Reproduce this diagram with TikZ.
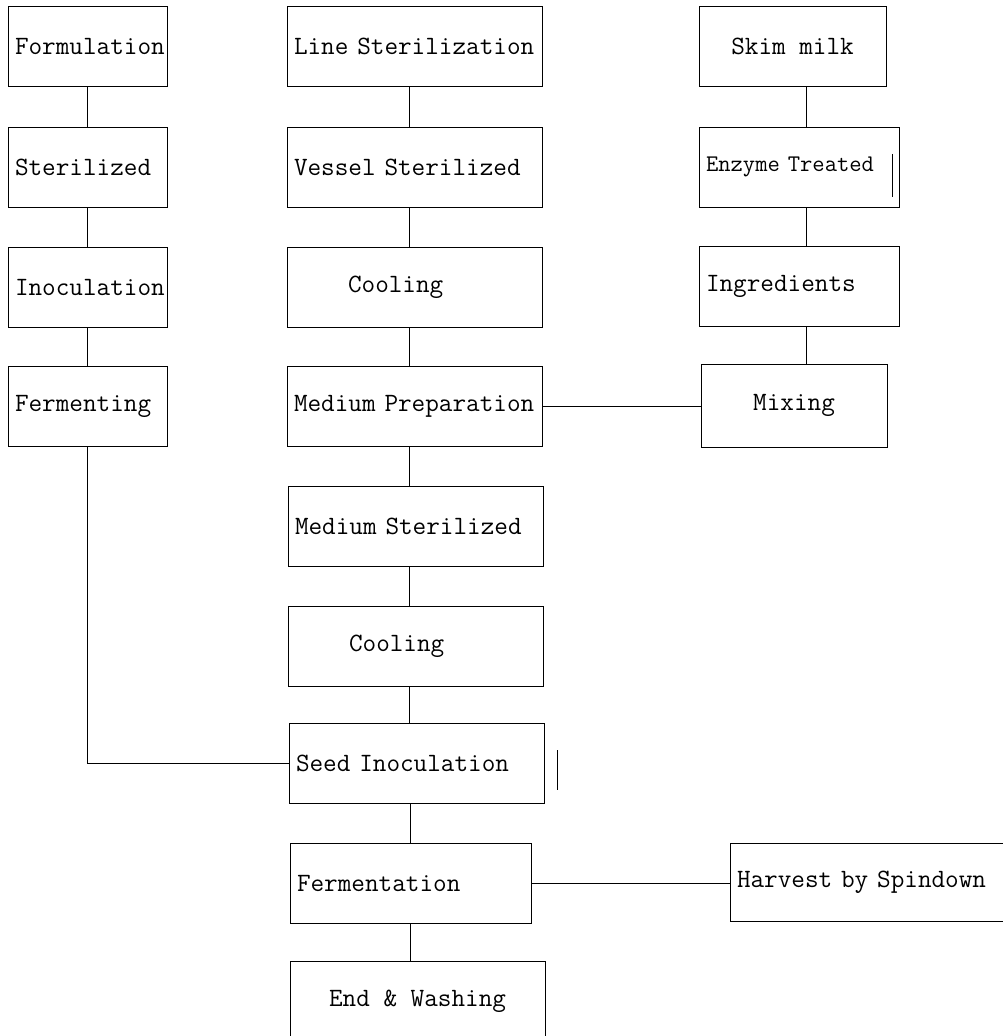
\documentclass[tikz,border=0pt]{standalone}
\usepackage{tikz}
\usetikzlibrary{positioning}

\tikzset{
  stage/.style={draw, anchor=north west, minimum height=2cm, inner xsep=0.175cm,
    inner ysep=0pt, outer sep=0pt, font=\fontsize{18.8}{21}\selectfont\ttfamily},
  stageleft/.style={stage, align=left, text width=#1},
}

\begin{document}
\begin{tikzpicture}[x=0.025cm, y=-0.025cm, line width=0.7pt]
\useasboundingbox (0,0) rectangle (1002,1036);

% Colonna sinistra
\node[stageleft=3.625cm] (formul) at (8,6) {Formulation};
\node[stageleft=3.625cm] (steril) at (8,127) {Sterilized};
\node[stageleft=3.625cm] (inocul) at (8,247) {Inoculation};
\node[stageleft=3.625cm] (fermng) at (8,366) {Fermenting};

% Colonna centrale
\node[stageleft=6.025cm] (linest) at (287,6) {Line Sterilization};
\node[stageleft=6.025cm] (vessel) at (287,127) {Vessel Sterilized};
\node[stageleft=6.025cm] (cool1) at (287,247) {\hspace*{1.35cm}Cooling};
\node[stageleft=6.025cm] (medprep) at (287,366) {Medium Preparation};
\node[stageleft=6.025cm] (medster) at (288,486) {Medium Sterilized};
\node[stageleft=6.025cm] (cool2) at (288,606) {\hspace*{1.35cm}Cooling};
\node[stageleft=6.025cm] (seed) at (289,723) {Seed Inoculation};
\node[stageleft=5.675cm] (fermtn) at (290,843) {Fermentation};
\node[stage, minimum width=6.375cm] (endwash) at (290,961) {End \& Washing};

% Colonna destra
\node[stage, minimum width=4.675cm] (skim) at (699,6) {Skim milk};
\node[stageleft=4.65cm, font=\fontsize{17}{19}\selectfont\ttfamily] (enzyme) at (699,127) {Enzyme Treated};
\node[stageleft=4.65cm] (ingred) at (699,246) {Ingredients};
\node[stage, minimum width=4.65cm, minimum height=2.075cm] (mixing) at (701,364) {Mixing};
\node[stageleft=7.15cm, minimum height=1.95cm] (harvest) at (730,843) {Harvest by Spindown};

% Linee di collegamento
\coordinate (midx) at (409,0);
\coordinate (rightx) at (806,0);
\draw (formul.south) -- (steril.north);
\draw (steril.south) -- (inocul.north);
\draw (inocul.south) -- (fermng.north);
\draw (fermng.south) |- (seed.west);

\draw (linest.south -| midx) -- (vessel.north -| midx);
\draw (vessel.south -| midx) -- (cool1.north -| midx);
\draw (cool1.south -| midx) -- (medprep.north -| midx);
\draw (medprep.south -| midx) -- (medster.north -| midx);
\draw (medster.south -| midx) -- (cool2.north -| midx);
\draw (cool2.south -| midx) -- (seed.north -| midx);
\draw (seed.south -| fermtn.north) -- (fermtn.north);
\draw (fermtn.south) -- (endwash.north -| fermtn.south);

\draw (skim.south -| rightx) -- (enzyme.north -| rightx);
\draw (enzyme.south -| rightx) -- (ingred.north -| rightx);
\draw (ingred.south -| rightx) -- (mixing.north -| rightx);

\draw (medprep.east) -- (mixing.west |- medprep.east);
\draw (fermtn.east) -- (harvest.west |- fermtn.east);

% Tratti isolati
\draw (892,154) -- (892,197);
\draw (557,750) -- (557,790);
\end{tikzpicture}
\end{document}
